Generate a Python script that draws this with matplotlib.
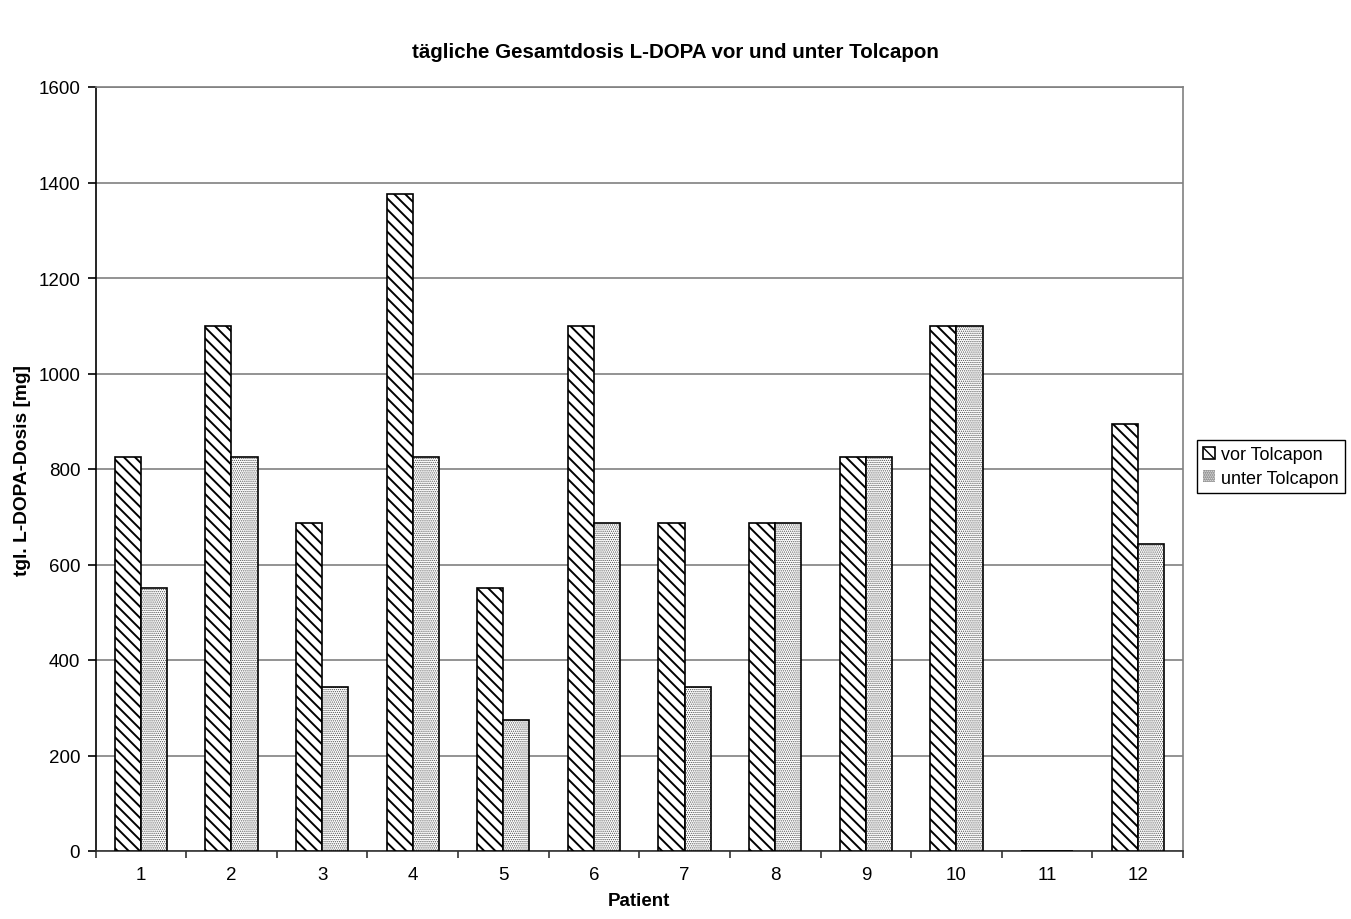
import matplotlib
matplotlib.use("Agg")
import matplotlib.pyplot as plt
import numpy as np

patients = ["1", "2", "3", "4", "5", "6", "7", "8", "9", "10", "11", "12"]
vor_tolcapon = [825, 1100, 687.5, 1375, 550, 1100, 687.5, 687.5, 825, 1100, 0, 893.75]
unter_tolcapon = [550, 825, 343.75, 825, 275, 687.5, 343.75, 687.5, 825, 1100, 0, 643.75]
y_ticks = [0, 200, 400, 600, 800, 1000, 1200, 1400, 1600]

plt.rcParams['font.family'] = ['Liberation Sans', 'DejaVu Sans']

W, H = 1351, 920
fig = plt.figure(figsize=(W / 100, H / 100), dpi=100)
ax = fig.add_axes([95.5 / W, (H - 852) / H, (1183 - 95.5) / W, (852 - 88) / H])

x = np.arange(len(patients))
w = 0.288

with plt.rc_context({'hatch.linewidth': 1.4}):
    b1 = ax.bar(x - w/2, vor_tolcapon, w, facecolor='white', edgecolor='black',
                hatch='\\' * 3, linewidth=1.2, zorder=3, label='vor Tolcapon')
with plt.rc_context({'hatch.linewidth': 0.6}):
    b2 = ax.bar(x + w/2, unter_tolcapon, w, facecolor='white', edgecolor='#505050',
                hatch='.' * 8, linewidth=0, zorder=3, label='unter Tolcapon')
ax.bar(x + w/2, unter_tolcapon, w, fill=False, edgecolor='black',
       linewidth=1.2, zorder=4)

ax.set_xlim(-0.5, len(patients) - 0.5)
ax.set_ylim(0, 1600)
ax.set_yticks(y_ticks)
ax.set_yticklabels([str(v) for v in y_ticks], fontsize=13.5)
ax.set_xticks(x)
ax.set_xticklabels(patients, fontsize=13.5)
ax.tick_params(axis='x', length=0, pad=11)
ax.set_xticks(np.arange(-0.5, len(patients)), minor=True)
ax.tick_params(axis='x', which='minor', length=5, direction='out', color='#333333', width=1.2)
ax.tick_params(axis='y', length=6, direction='out', color='black', pad=5, width=1.2)

ax.yaxis.grid(True, color='#808080', linewidth=1.2, zorder=0)
ax.set_axisbelow(True)
ax.spines['left'].set_color('black')
ax.spines['bottom'].set_color('#333333')
for s in ['left', 'bottom']:
    ax.spines[s].set_linewidth(1.2)
for s in ['top', 'right']:
    ax.spines[s].set_color('#808080')
    ax.spines[s].set_linewidth(1.2)

ax.set_xlabel('Patient', fontsize=13.5, fontweight='bold', labelpad=6)
ax.set_ylabel('tgl. L-DOPA-Dosis [mg]', fontsize=13.8, fontweight='bold', labelpad=5)
fig.suptitle('tägliche Gesamtdosis L-DOPA vor und unter Tolcapon', fontsize=14.8,
             fontweight='bold', y=1 - 53 / H, va='center')

leg = fig.legend(handles=[b1, b2], loc='upper left',
                 bbox_to_anchor=(1197 / W, 1 - 441 / H), fontsize=13,
                 frameon=True, fancybox=False, edgecolor='black', framealpha=1,
                 handlelength=0.65, handleheight=0.65, handletextpad=0.35,
                 borderpad=0.35, labelspacing=0.35, borderaxespad=0)
leg.get_frame().set_linewidth(1.0)

fig.savefig('out.png', dpi=100)
